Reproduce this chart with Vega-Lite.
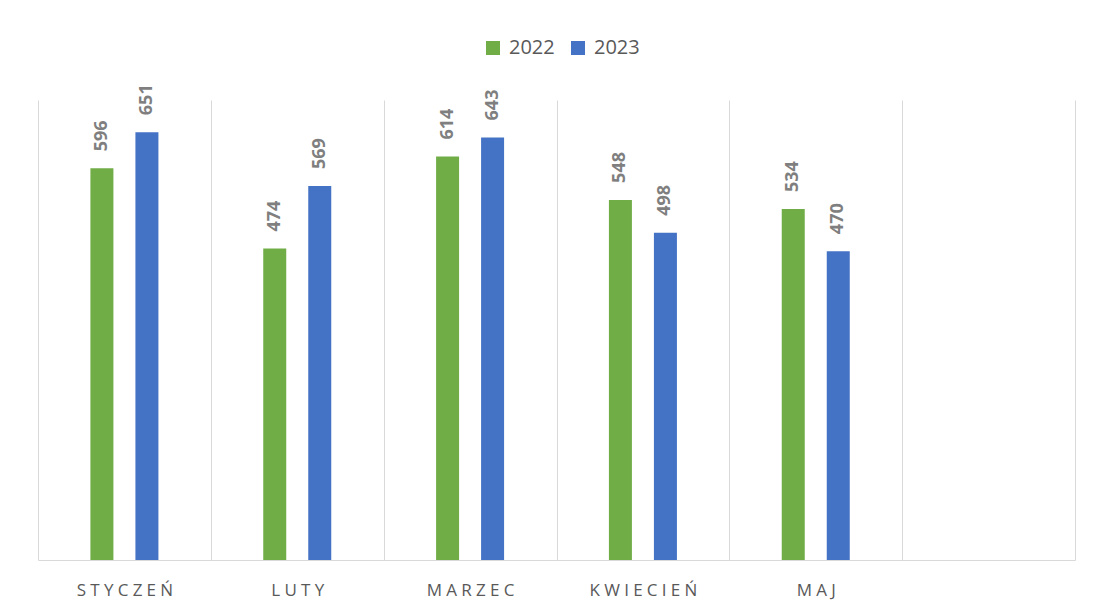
{
  "$schema": "https://vega.github.io/schema/vega-lite/v6.json",
  "width": 1037,
  "height": 460,
  "autosize": {"type": "none"},
  "padding": {"left": 38, "top": 100, "right": 19, "bottom": 52},
  "background": "white",
  "config": {"view": {"stroke": null}},
  "data": {
    "values": [
      {"month": "STYCZEŃ", "year": "2022", "value": 596},
      {"month": "STYCZEŃ", "year": "2023", "value": 651},
      {"month": "LUTY", "year": "2022", "value": 474},
      {"month": "LUTY", "year": "2023", "value": 569},
      {"month": "MARZEC", "year": "2022", "value": 614},
      {"month": "MARZEC", "year": "2023", "value": 643},
      {"month": "KWIECIEŃ", "year": "2022", "value": 548},
      {"month": "KWIECIEŃ", "year": "2023", "value": 498},
      {"month": "MAJ", "year": "2022", "value": 534},
      {"month": "MAJ", "year": "2023", "value": 470}
    ]
  },
  "encoding": {
    "x": {
      "field": "month",
      "type": "nominal",
      "sort": null,
      "scale": {
        "domain": ["STYCZEŃ", "LUTY", "MARZEC", "KWIECIEŃ", "MAJ", " "],
        "paddingInner": 0,
        "paddingOuter": 0
      },
      "axis": {
        "title": null,
        "grid": true,
        "gridColor": "#d9d9d9",
        "gridWidth": 1,
        "tickBand": "extent",
        "ticks": false,
        "domainColor": "#d9d9d9",
        "domainWidth": 1,
        "labelAngle": 0,
        "labelFont": "Open Sans",
        "labelFontSize": 17,
        "labelColor": "#595959",
        "labelPadding": 22,
        "labelExpr": "join(split(datum.label, ''), '\u2005')"
      }
    },
    "xOffset": {
      "field": "year",
      "type": "nominal",
      "scale": {"paddingInner": 0.16, "paddingOuter": 1}
    },
    "y": {
      "field": "value",
      "type": "quantitative",
      "scale": {"domain": [0, 700], "nice": false},
      "axis": null
    }
  },
  "layer": [
    {
      "mark": {"type": "bar", "width": 23},
      "encoding": {
        "color": {
          "field": "year",
          "type": "nominal",
          "scale": {"domain": ["2022", "2023"], "range": ["#70ad47", "#4472c4"]},
          "legend": {
            "orient": "none",
            "legendX": 445,
            "legendY": -62,
            "direction": "horizontal",
            "title": null,
            "symbolType": "square",
            "symbolSize": 196,
            "symbolStrokeWidth": 0,
            "labelFont": "Open Sans",
            "labelFontSize": 20,
            "labelColor": "#595959",
            "labelOffset": 6,
            "columnPadding": 13
          }
        }
      }
    },
    {
      "mark": {
        "type": "text",
        "angle": 270,
        "align": "left",
        "baseline": "middle",
        "dx": 17,
        "font": "Open Sans",
        "fontWeight": "bold",
        "fontSize": 18,
        "color": "#7f7f7f"
      },
      "encoding": {
        "text": {"field": "value", "type": "quantitative"}
      }
    }
  ]
}
